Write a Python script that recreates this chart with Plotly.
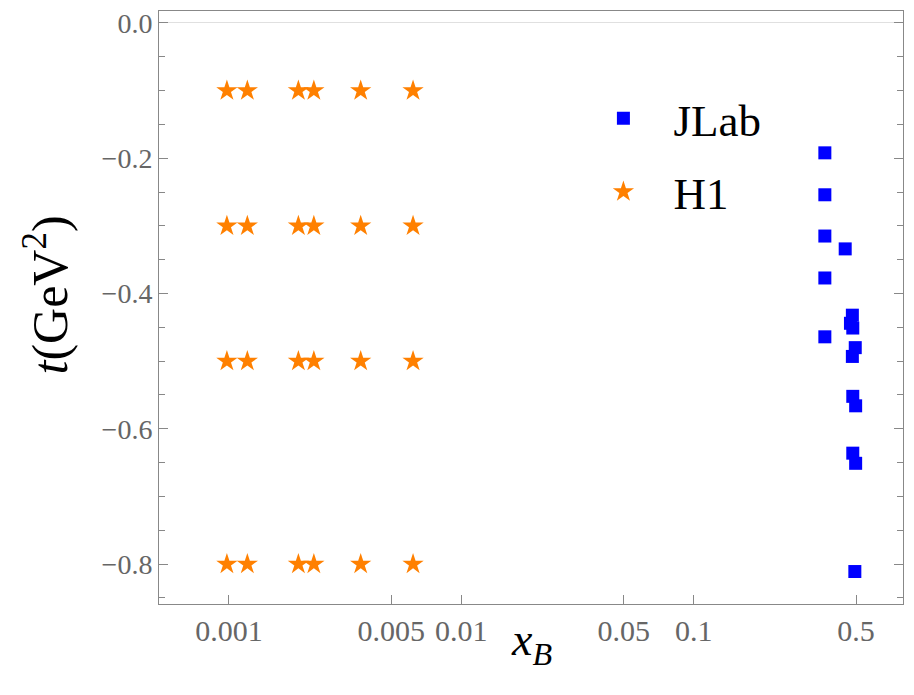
import plotly.graph_objects as go

# H1 data
h1_x = [0.00098, 0.0012, 0.00199, 0.00232, 0.00369, 0.0062]
h1_t = [-0.1, -0.3, -0.5, -0.8]

# JLab data
jlab_x = [0.367, 0.367, 0.367, 0.449, 0.367, 0.482, 0.473, 0.484, 0.367,
          0.496, 0.482, 0.484, 0.498, 0.484, 0.498, 0.494]
jlab_t = [-0.192, -0.254, -0.315, -0.334, -0.377, -0.432, -0.444, -0.451, -0.464,
          -0.480, -0.493, -0.552, -0.566, -0.636, -0.651, -0.811]

xtick_vals = [0.001, 0.005, 0.01, 0.05, 0.1, 0.5]
xtick_text = ["0.001", "0.005", "0.01", "0.05", "0.1", "0.5"]

hx = [x for t in h1_t for x in h1_x]
ht = [t for t in h1_t for x in h1_x]

FONT = "Liberation Serif, Times New Roman, serif"
AX = "#888888"
TICKF = dict(family=FONT, size=30, color="#666666")
YTICKF = dict(family=FONT, size=28, color="#666666")

fig = go.Figure()
fig.add_trace(go.Scatter(x=jlab_x, y=jlab_t, mode="markers", name="JLab", legendgroup="a",
                         marker=dict(symbol="square", size=13, color="#0000ff")))
fig.add_trace(go.Scatter(x=hx, y=ht, mode="markers", name="H1", legendgroup="b",
                         marker=dict(symbol="star", size=16, color="#ff8000")))

fig.update_layout(
    width=906, height=687,
    margin=dict(l=151, r=11, t=3, b=91),
    plot_bgcolor="white", paper_bgcolor="white",
    font=dict(family=FONT),
    showlegend=True,
    legend=dict(x=0.557, y=0.8795, xanchor="left", yanchor="top",
                font=dict(family=FONT, size=45, color="black"),
                bgcolor="rgba(0,0,0,0)", itemwidth=90, tracegroupgap=12),
    annotations=[
        dict(text="<i>x</i><sub><i>B</i></sub>", xref="paper", yref="paper",
             x=0.5, y=0, xanchor="center", yanchor="top", yshift=-8,
             showarrow=False, font=dict(family=FONT, size=46, color="black")),
        dict(text="<i>t</i>(GeV<sup>2</sup>)", xref="paper", yref="paper",
             x=0, y=0.5, xanchor="center", yanchor="middle", xshift=-113, yshift=12,
             textangle=-90, showarrow=False, font=dict(family=FONT, size=50, color="black")),
    ],
)
fig.update_xaxes(
    type="log", range=[-3.301, -0.099], automargin=False, ticklabeloverflow="allow",
    tickvals=xtick_vals, ticktext=xtick_text,
    ticks="inside", ticklen=9, tickcolor=AX, tickwidth=1,
    showline=True, linecolor=AX, linewidth=1, mirror=True,
    showgrid=False, zeroline=False, tickfont=TICKF,
)
fig.update_yaxes(
    range=[-0.859, 0.0177], dtick=0.2, tick0=0, tickformat=".1f", automargin=False,
    ticklabeloverflow="allow",
    ticks="inside", ticklen=9, tickcolor=AX, tickwidth=1,
    minor=dict(dtick=0.05, ticks="inside", ticklen=6, tickcolor=AX, showgrid=False),
    showline=True, linecolor=AX, linewidth=1, mirror="ticks",
    showgrid=False, zeroline=True, zerolinecolor="#e0e0e0", zerolinewidth=1,
    tickfont=YTICKF,
)

fig.write_html("out.html")
